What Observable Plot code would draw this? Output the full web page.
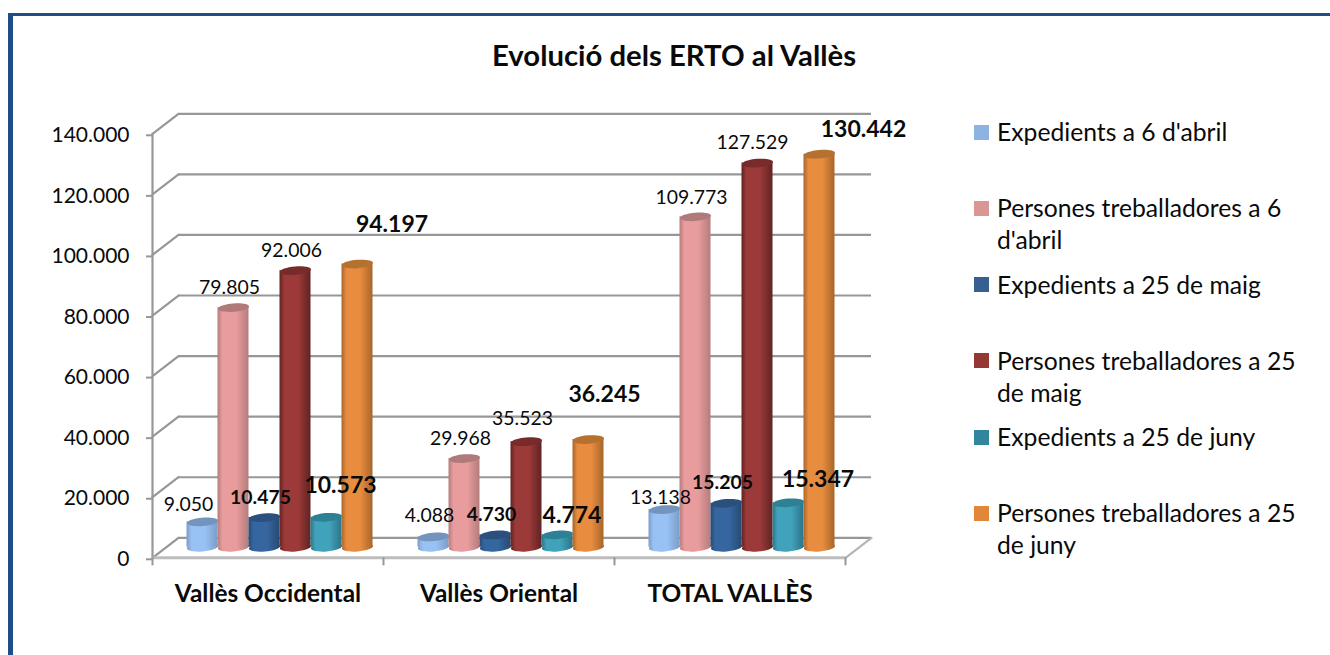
<!DOCTYPE html>
<html>
<head>
<meta charset="utf-8">
<script src="https://cdn.jsdelivr.net/npm/d3@7"></script>
<script src="https://cdn.jsdelivr.net/npm/@observablehq/plot@0.6"></script>
<style>
html,body{margin:0;padding:0;background:#fff;overflow:hidden}
#stage{position:relative;width:1330px;height:655px;font-family:Lato,sans-serif;color:#0a0a0a}
#stage svg{position:absolute;left:0;top:0;background:none;overflow:visible}
#frame{position:absolute;left:8px;top:13px;right:0;bottom:0;border-left:5px solid #1F4E84;border-top:3px solid #1F4E84}
#title{position:absolute;left:0;width:1348px;top:39px;text-align:center;font-weight:700;font-size:29.3px;line-height:32px}
#legend{position:absolute;left:974px;top:116px;width:330px}
.item{height:76.3px;display:flex;align-items:flex-start;font-size:24.7px;line-height:32px}
.sw{flex:0 0 15px;height:15px;margin:8.5px 8px 0 0}
</style>
</head>
<body>
<div id="stage">
<div id="frame"></div>
<div id="title">Evolució dels ERTO al Vallès</div>
<div id="legend"></div>
</div>
<script>
// ---- data ----
const groups = ["Vallès Occidental", "Vallès Oriental", "TOTAL VALLÈS"];
const seriesNames = [
  "Expedients a 6 d'abril",
  "Persones treballadores a 6 d'abril",
  "Expedients a 25 de maig",
  "Persones treballadores a 25 de maig",
  "Expedients a 25 de juny",
  "Persones treballadores a 25 de juny"
];
const exp6abr = [9050, 4088, 13138];
const per6abr = [79805, 29968, 109773];
const exp25mai = [10475, 4730, 15205];
const per25mai = [92006, 35523, 127529];
const exp25jun = [10573, 4774, 15347];
const per25jun = [94197, 36245, 130442];
const yTicks = [0, 20000, 40000, 60000, 80000, 100000, 120000, 140000];

// ---- styling ----
const seriesValues = [exp6abr, per6abr, exp25mai, per25mai, exp25jun, per25jun];
const swatch = ["#8DB3E2", "#D99694", "#376092", "#953735", "#31859C", "#E0873A"];
const sideEdge = ["#7C9DC6", "#B57C7C", "#274A73", "#5F2322", "#2C7488", "#A8662B"];
const sideMid = ["#98C1F4", "#E99C9D", "#36669F", "#9C3A39", "#41A3BB", "#E88D3F"];
const capFill = ["#7394BC", "#B0797A", "#2B507D", "#772C2B", "#2E8094", "#B4712F"];
const labelWeight = [400, 400, 700, 400, 700, 700];
const labelSize = [19.4, 19.4, 19.4, 19.4, 23, 23];
// label nudges from the top of the column [group][series]: [dx, dy]
const nudges = [
  [[-14,-25.6],[-4,-28],[-4,-28],[-4,-28],[14,-40],[34.5,-48]],
  [[-4,-30],[-4,-28],[-4,-29],[-4,-31],[14.5,-27.5],[16,-53]],
  [[-4,-20],[-4,-28],[-4,-29],[-5,-29],[29.5,-31.5],[44,-33]]
];

const fmt = d3.format(",");
const dotted = v => fmt(v).replace(/,/g, ".");

// x runs in category units: each category spans one unit, columns are a share of it
const colShare = 31 / 231;
const rows = seriesNames.map((s, si) =>
  groups.map((g, gi) => ({
    group: g, series: s, value: seriesValues[si][gi], si, gi,
    left: gi + 0.5 + (si - 3) * colShare,
    right: gi + 0.5 + (si - 2) * colShare,
    mid: gi + 0.5 + (si - 2.5) * colShare
  })));

// depth of the 3D box and of the columns inside it
const wall = {dx: 26, dy: -20};
const col = {dx: 12, dy: -8.5};
const gridColor = "#979797";

const ellipse = {
  draw(ctx, size) {
    const rx = Math.sqrt(size / Math.PI), ry = rx * 0.27, k = 0.5523;
    ctx.moveTo(-rx, 0);
    ctx.bezierCurveTo(-rx, -ry * k, -rx * k, -ry, 0, -ry);
    ctx.bezierCurveTo(rx * k, -ry, rx, -ry * k, rx, 0);
    ctx.bezierCurveTo(rx, ry * k, rx * k, ry, 0, ry);
    ctx.bezierCurveTo(-rx * k, ry, -rx, ry * k, -rx, 0);
    ctx.closePath();
  }
};
const spike = {draw(ctx, l) { ctx.moveTo(0, 0); ctx.lineTo(0, -l); }};
const depthLen = Math.hypot(wall.dx, wall.dy);
const depthAngle = Math.atan2(wall.dx, -wall.dy) * 180 / Math.PI;

function gradients() {
  const defs = d3.create("svg:defs");
  seriesNames.forEach((s, i) => {
    const g = defs.append("linearGradient").attr("id", "cyl" + i)
      .attr("x1", 0).attr("x2", 1).attr("y1", 0).attr("y2", 0);
    [[0, sideEdge[i]], [0.16, sideMid[i]], [0.6, sideMid[i]], [1, sideEdge[i]]].forEach(([o, c]) =>
      g.append("stop").attr("offset", o).attr("stop-color", c));
  });
  return defs.node();
}

const chart = Plot.plot({
  width: 1330,
  height: 655,
  marginTop: 133.3,
  marginBottom: 97.7,
  marginLeft: 152,
  marginRight: 485,
  style: {fontFamily: "Lato, sans-serif", color: "#0a0a0a", background: "none"},
  x: {type: "linear", domain: [0, 3], axis: null},
  y: {domain: [0, 140000], axis: null},
  marks: [
    gradients,
    // back wall lines
    Plot.ruleY(yTicks, {...wall, stroke: gridColor, strokeWidth: 2.2}),
    // left wall lines
    Plot.vector(yTicks, {x: () => 0, y: d => d, length: depthLen, rotate: depthAngle,
      anchor: "start", shape: spike, stroke: gridColor, strokeWidth: 2.2}),
    // floor
    Plot.vector([0], {x: () => 3, y: d => d, length: depthLen, rotate: depthAngle,
      anchor: "start", shape: spike, stroke: "#B5B5B5", strokeWidth: 2.2}),
    Plot.ruleY([0], {stroke: "#BDBDBD", strokeWidth: 3}),
    Plot.ruleX([0], {stroke: gridColor, strokeWidth: 2.2}),
    // category separators below the floor
    Plot.axisX({ticks: [0, 1, 2, 3], tickFormat: () => "", tickSize: 8, stroke: gridColor,
      strokeWidth: 2, label: null}),
    // columns
    ...rows.flatMap((data, i) => [
      Plot.dot(data, {x: "mid", y: () => 0, dx: col.dx, dy: -10.5, r: 15.6, symbol: ellipse,
        rotate: -4.5, fill: `url(#cyl${i})`, stroke: "none"}),
      Plot.rectY(data, {x1: "left", x2: "right", y: "value", y0: () => 0, ...col, insetBottom: 2,
        fill: `url(#cyl${i})`}),
      Plot.dot(data, {x: "mid", y: "value", ...col, r: 15.6, symbol: ellipse,
        rotate: -4.5, fill: capFill[i], stroke: "none"})
    ]),
    // axes
    Plot.axisY({ticks: yTicks, tickFormat: dotted, tickSize: 6, tickPadding: 17, stroke: gridColor,
      strokeWidth: 2, fontSize: 21, dy: 1.5, textStroke: "none", label: null}),
    Plot.axisX({ticks: [0.5, 1.5, 2.5], tickFormat: d => groups[Math.floor(d)], tickSize: 0,
      tickPadding: 27, fontSize: 24.4, fontWeight: 700, label: null}),
    // value labels
    ...rows.flat().map(d => Plot.text([d], {
      x: "mid", y: "value", text: v => dotted(v.value),
      dx: col.dx + nudges[d.gi][d.si][0], dy: nudges[d.gi][d.si][1],
      fontSize: labelSize[d.si], fontWeight: labelWeight[d.si], fill: "#0a0a0a"
    }))
  ]
});
document.getElementById("stage").appendChild(chart);

const legend = d3.select("#legend");
seriesNames.forEach((s, i) => {
  const it = legend.append("div").attr("class", "item");
  it.append("div").attr("class", "sw").style("background", swatch[i]);
  it.append("div").style("width", "305px").text(s);
});
</script>
</body>
</html>
